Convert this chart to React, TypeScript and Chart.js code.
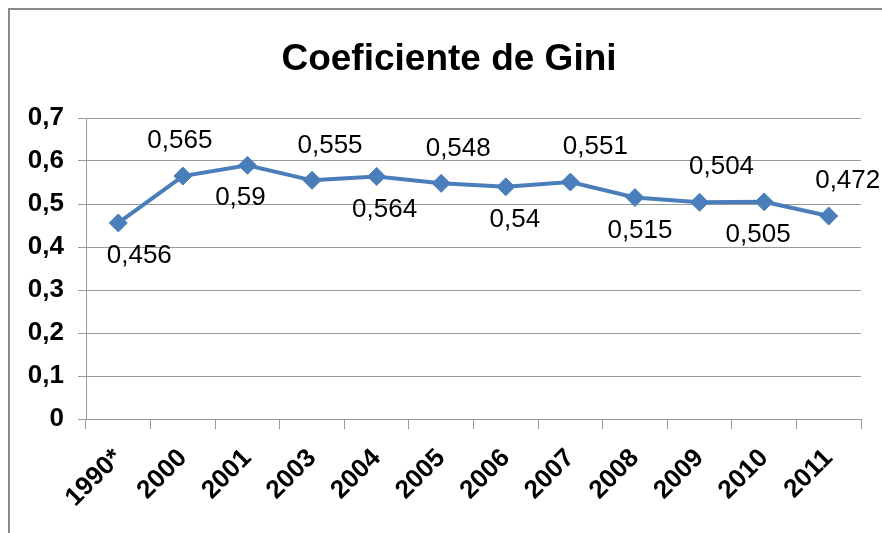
import { useEffect, useRef } from "react";
import { Chart, registerables } from "chart.js";

Chart.register(...registerables);

const categories = ["1990*", "2000", "2001", "2003", "2004", "2005", "2006", "2007", "2008", "2009", "2010", "2011"];
const giniValues = [0.456, 0.565, 0.59, 0.555, 0.564, 0.548, 0.54, 0.551, 0.515, 0.504, 0.505, 0.472];
const labelAbove = [false, true, false, true, false, true, false, true, false, true, false, true];
const yMin = 0;
const yMax = 0.7;
const yStep = 0.1;
const chartTitle = "Coeficiente de Gini";

// label placement styling (pixel nudges, not data)
const labelNudgeX = [21, -3, -7, 18, 8, 17, 9, 25, 5, 22, -6, 19];

const FONT = "'Liberation Sans', Arial, sans-serif";
const LINE_COLOR = "#4A7EBB";
const GRID_COLOR = "#9a9a9a";

const fmt = (v: number) => String(Math.round(v * 1000) / 1000).replace(".", ",");

const dataLabelPlugin = {
  id: "dataLabels",
  afterDatasetsDraw(chart: any) {
    const ctx = chart.ctx;
    const meta = chart.getDatasetMeta(0);
    ctx.save();
    ctx.font = `26px ${FONT}`;
    ctx.fillStyle = "#000";
    ctx.textAlign = "center";
    ctx.textBaseline = "middle";
    meta.data.forEach((pt: any, i: number) => {
      const above = labelAbove[i];
      const dy = above ? -35 : 33;
      ctx.fillText(fmt(giniValues[i]), pt.x + labelNudgeX[i], pt.y + dy);
    });
    ctx.restore();
  },
};

const titlePlugin = {
  id: "centeredTitle",
  afterDraw(chart: any) {
    const ctx = chart.ctx;
    ctx.save();
    ctx.font = `bold 37px ${FONT}`;
    ctx.fillStyle = "#000";
    ctx.textAlign = "center";
    ctx.textBaseline = "alphabetic";
    ctx.fillText(chartTitle, 439, 60);
    ctx.restore();
  },
};

export default function App() {
  const ref = useRef<HTMLCanvasElement | null>(null);

  useEffect(() => {
    if (!ref.current) return;
    const chart = new Chart(ref.current, {
      type: "line",
      data: {
        labels: categories,
        datasets: [
          {
            data: giniValues,
            borderColor: LINE_COLOR,
            backgroundColor: LINE_COLOR,
            borderWidth: 4,
            pointStyle: "rectRot",
            pointRadius: 9,
            pointBackgroundColor: LINE_COLOR,
            pointBorderColor: LINE_COLOR,
            pointBorderWidth: 1,
            tension: 0,
            fill: false,
          },
        ],
      },
      options: {
        responsive: false,
        animation: false,
        devicePixelRatio: 1,
        layout: { padding: { left: 0, right: 21, top: 0, bottom: 0 } },
        plugins: {
          legend: { display: false },
          tooltip: { enabled: false },
          title: {
            display: true,
            text: chartTitle,
            color: "rgba(0,0,0,0)",
            font: { family: FONT, size: 37, weight: "bold" },
            padding: { top: 25, bottom: 38.6 },
          },
        },
        scales: {
          x: {
            offset: true,
            grid: {
              offset: true,
              drawOnChartArea: false,
              drawTicks: true,
              tickLength: 10,
              color: GRID_COLOR,
            },
            border: { color: GRID_COLOR, width: 1 },
            ticks: {
              color: "#000",
              font: { family: FONT, size: 26, weight: "bold" },
              minRotation: 45,
              maxRotation: 45,
              padding: 14,
              autoSkip: false,
            },
            afterFit(scale: any) {
              scale.height = 114;
            },
          },
          y: {
            min: yMin,
            max: yMax,
            grid: { color: GRID_COLOR, tickLength: 8, lineWidth: 1 },
            border: { color: GRID_COLOR, width: 1 },
            ticks: {
              stepSize: yStep,
              color: "#000",
              font: { family: FONT, size: 26, weight: "bold" },
              padding: 14,
              callback: (v: any) => fmt(Number(v)),
            },
            afterFit(scale: any) {
              scale.width = 76;
            },
          },
        },
      },
      plugins: [dataLabelPlugin, titlePlugin],
    } as any);
    return () => chart.destroy();
  }, []);

  return (
    <div
      style={{
        position: "fixed",
        left: 8,
        top: 8,
        width: 874,
        height: 525,
        boxSizing: "border-box",
        borderTop: "2px solid #8a8a8a",
        borderLeft: "2px solid #8a8a8a",
        background: "#fff",
      }}
    >
      <canvas ref={ref} width={872} height={523} style={{ display: "block" }} />
    </div>
  );
}
